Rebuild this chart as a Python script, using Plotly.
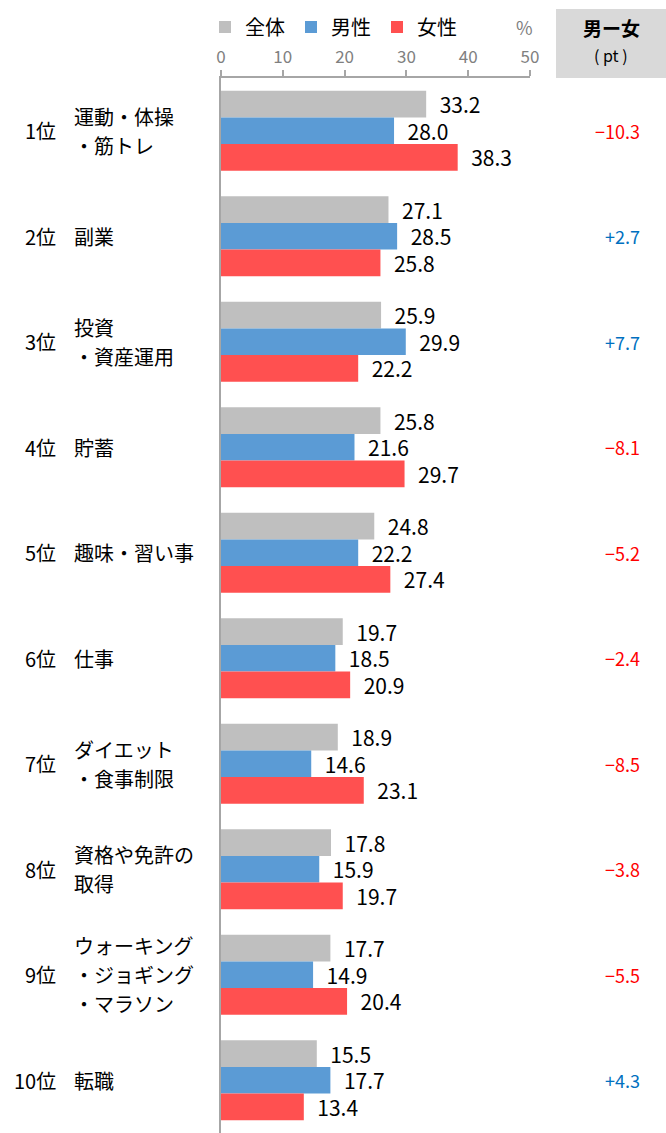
import plotly.graph_objects as go

ranks = ["1位", "2位", "3位", "4位", "5位", "6位", "7位", "8位", "9位", "10位"]
items = [
    "運動・体操<br>・筋トレ",
    "副業",
    "投資<br>・資産運用",
    "貯蓄",
    "趣味・習い事",
    "仕事",
    "ダイエット<br>・食事制限",
    "資格や免許の<br>取得",
    "ウォーキング<br>・ジョギング<br>・マラソン",
    "転職",
]
total = [33.2, 27.1, 25.9, 25.8, 24.8, 19.7, 18.9, 17.8, 17.7, 15.5]
male = [28.0, 28.5, 29.9, 21.6, 22.2, 18.5, 14.6, 15.9, 14.9, 17.7]
female = [38.3, 25.8, 22.2, 29.7, 27.4, 20.9, 23.1, 19.7, 20.4, 13.4]
diff = [-10.3, 2.7, 7.7, -8.1, -5.2, -2.4, -8.5, -3.8, -5.5, 4.3]
x_ticks = [0, 10, 20, 30, 40, 50]

FONT = "Noto Sans CJK JP"
W, H = 666, 1133
L, R, T, B = 221, 136, 78, 0
pw, ph = W - L - R, H - T - B
LINE_STEP = 29


def px_x(px):
    return (px - L) / pw


def px_y(py):
    return (H - B - py) / ph


fig = go.Figure()
series = [("全体", total, "#BFBFBF"), ("男性", male, "#5B9BD5"), ("女性", female, "#FF5050")]
for name, vals, col in series:
    fig.add_trace(go.Bar(
        y=ranks, x=vals, name=name, orientation="h",
        marker=dict(color=col, line=dict(width=0)),
        text=[f"{v:.1f}" for v in vals],
        texttemplate="\u2002%{text}",
        textposition="outside",
        textfont=dict(family=FONT, size=21, color="#000000"),
        cliponaxis=False,
        constraintext="none",
    ))

annotations = []
for r, it, d in zip(ranks, items, diff):
    annotations.append(dict(x=px_x(58), y=r, xref="paper", yref="y", text=r,
                            showarrow=False, xanchor="right", yanchor="middle",
                            font=dict(family=FONT, size=20, color="#000")))
    lines = it.split("<br>")
    n = len(lines)
    for i, ln in enumerate(lines):
        annotations.append(dict(x=px_x(72), y=r, xref="paper", yref="y", text=ln,
                                showarrow=False, xanchor="left", yanchor="middle", align="left",
                                yshift=-(i - (n - 1) / 2) * LINE_STEP,
                                font=dict(family=FONT, size=20, color="#000")))
    txt = f"+{d:.1f}" if d > 0 else f"−{abs(d):.1f}"
    annotations.append(dict(x=px_x(642), y=r, xref="paper", yref="y", text=txt,
                            showarrow=False, xanchor="right", yanchor="middle",
                            font=dict(family=FONT, size=18,
                                      color="#0070C0" if d > 0 else "#FF0000")))

annotations += [
    dict(x=px_x(535), y=px_y(27), xref="paper", yref="paper", text="%", showarrow=False,
         xanchor="right", yanchor="middle", font=dict(family=FONT, size=18, color="#808080")),
    dict(x=px_x(611), y=px_y(27), xref="paper", yref="paper", text="<b>男ー女</b>", showarrow=False,
         xanchor="center", yanchor="middle", font=dict(family=FONT, size=19, color="#000")),
    dict(x=px_x(611), y=px_y(55), xref="paper", yref="paper", text="( pt )", showarrow=False,
         xanchor="center", yanchor="middle", font=dict(family=FONT, size=16, color="#000")),
]

fig.update_layout(
    width=W, height=H,
    margin=dict(l=L, r=R, t=T, b=B, pad=0),
    paper_bgcolor="white", plot_bgcolor="white",
    barmode="group", bargap=0.24, bargroupgap=0,
    font=dict(family=FONT),
    showlegend=True,
    legend=dict(orientation="h", x=px_x(205), y=px_y(27), xanchor="left", yanchor="middle",
                font=dict(family=FONT, size=20, color="#000"), entrywidth=41,
                itemwidth=30, bgcolor="rgba(0,0,0,0)", traceorder="normal"),
    xaxis=dict(side="top", range=[0, 50], tickvals=x_ticks, showgrid=False, zeroline=False,
               showline=True, linecolor="#A6A6A6", linewidth=1.5, ticks="outside", ticklen=6,
               tickcolor="#A6A6A6", tickwidth=1.5,
               tickfont=dict(family=FONT, size=17, color="#808080")),
    yaxis=dict(autorange="reversed", showticklabels=False, showgrid=False, zeroline=False,
               showline=True, linecolor="#A6A6A6", linewidth=1.5, ticks=""),
    annotations=annotations,
    shapes=[dict(type="rect", xref="paper", yref="paper", x0=px_x(556), x1=px_x(667),
                 y0=px_y(78), y1=px_y(9), fillcolor="#D9D9D9", line=dict(width=0), layer="below")],
)

fig.write_html("out.html")
